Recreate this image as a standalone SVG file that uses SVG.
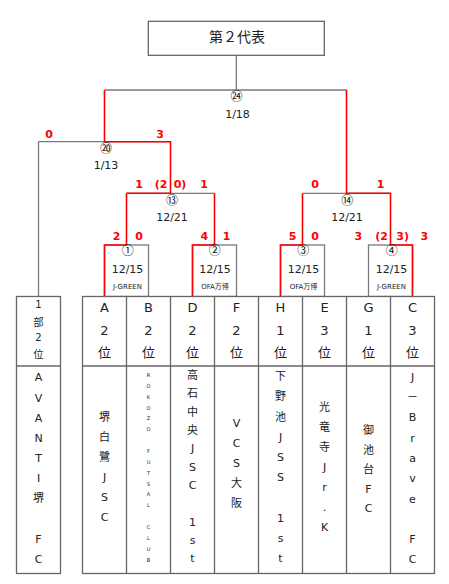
<svg xmlns="http://www.w3.org/2000/svg" width="449" height="584" viewBox="0 0 449 584">
<style>
text{font-family:"DejaVu Sans","Noto Sans CJK JP",sans-serif;fill:#222;text-anchor:middle}
.g{stroke:#7a7a7a;stroke-width:1.3;fill:none}
.r{stroke:#ff0000;stroke-width:1.6;fill:none}
.box{fill:#fff;stroke:#666;stroke-width:1.3}
.sc{font-size:11px;font-weight:bold;fill:#ff0000}
.dt{font-size:11px}
.ven{font-size:7px}
.cn{font-family:"Noto Sans CJK JP",sans-serif;font-size:12px;fill:#111}
.hd{font-size:13px}
.hs{font-size:10px}
.tm{font-size:11px}
.tiny{font-size:5px}
</style>
<rect width="449" height="584" fill="#fff"/>

<g id="winner-box">
<rect x="148.3" y="21.3" width="176" height="34" class="box"/>
<text x="237" y="42" style="font-family:'Noto Sans CJK JP',sans-serif;font-size:14px">第２代表</text>
</g>

<g id="connectors">
<path class="g" d="M236.3 55.3V90M104.5 90H346.5M38.5 141.7H170.5M38.5 141.7V296.5M126.5 193.3H214.5M302.5 193.3H390.5"/>
<rect class="g" x="104.5" y="245" width="44" height="51.5"/>
<rect class="g" x="192.5" y="245" width="44" height="51.5"/>
<rect class="g" x="280.5" y="245" width="44" height="51.5"/>
<rect class="g" x="368.5" y="245" width="44" height="51.5"/>
<path class="r" d="M104.5 90V141.7H170.5V193.3M346.5 90V193.3H390.5V245H412.5V296.5M126.5 193.3H170.5M126.5 193.3V245H104.5V296.5M214.5 193.3V245H192.5V296.5M302.5 193.3V245H280.5V296.5"/>
</g>

<g id="match-24">
<text class="cn" x="236.5" y="100.5">㉔</text>
<text class="dt" x="237.5" y="118">1/18</text>
</g>
<g id="match-20">
<text class="sc" x="49" y="138">0</text>
<text class="sc" x="160" y="138">3</text>
<text class="cn" x="106" y="152.5">⑳</text>
<text class="dt" x="106" y="169">1/13</text>
</g>
<g id="match-13">
<text class="sc" x="139" y="188">1</text>
<text class="sc" x="161" y="188">(2</text>
<text class="sc" x="180" y="188">0)</text>
<text class="sc" x="204" y="188">1</text>
<text class="cn" x="172" y="204.5">⑬</text>
<text class="dt" x="172" y="221">12/21</text>
</g>
<g id="match-14">
<text class="sc" x="315" y="188">0</text>
<text class="sc" x="380.7" y="188">1</text>
<text class="cn" x="347.3" y="204.5">⑭</text>
<text class="dt" x="347" y="221">12/21</text>
</g>
<g id="match-1">
<text class="sc" x="116.7" y="240">2</text>
<text class="sc" x="139" y="240">0</text>
<text class="cn" x="127.7" y="255">①</text>
<text class="dt" x="127.5" y="273">12/15</text>
<text class="ven" x="127.5" y="288.5">J-GREEN</text>
</g>
<g id="match-2">
<text class="sc" x="204.3" y="240">4</text>
<text class="sc" x="226.7" y="240">1</text>
<text class="cn" x="214.7" y="255">②</text>
<text class="dt" x="215" y="273">12/15</text>
<text class="ven" x="215" y="288.5">OFA万博</text>
</g>
<g id="match-3">
<text class="sc" x="292.7" y="240">5</text>
<text class="sc" x="315" y="240">0</text>
<text class="cn" x="303.3" y="255">③</text>
<text class="dt" x="303.5" y="273">12/15</text>
<text class="ven" x="303.5" y="288.5">OFA万博</text>
</g>
<g id="match-4">
<text class="sc" x="358.3" y="240">3</text>
<text class="sc" x="381.7" y="240">(2</text>
<text class="sc" x="402.7" y="240">3)</text>
<text class="sc" x="424.3" y="240">3</text>
<text class="cn" x="391.7" y="255">④</text>
<text class="dt" x="391.5" y="273">12/15</text>
<text class="ven" x="391.5" y="288.5">J-GREEN</text>
</g>

<g id="table-lines">
<rect class="box" x="16.5" y="296.5" width="44" height="277"/>
<path class="g" d="M16.5 366H60.5" style="stroke:#666"/>
<rect class="box" x="82.5" y="296.5" width="352" height="277"/>
<path class="g" style="stroke:#666" d="M82.5 366H434.5M126.5 296.5V573.5M170.5 296.5V573.5M214.5 296.5V573.5M258.5 296.5V573.5M302.5 296.5V573.5M346.5 296.5V573.5M390.5 296.5V573.5"/>
</g>

<g id="team-seed">
<text class="hs"><tspan x="38.5" y="307.6">1</tspan><tspan x="38.5" y="325.5">部</tspan><tspan x="38.5" y="341">2</tspan><tspan x="38.5" y="358">位</tspan></text>
<text class="tm"><tspan x="38.5" y="381.3">A</tspan><tspan x="38.5" y="401.5">V</tspan><tspan x="38.5" y="421.7">A</tspan><tspan x="38.5" y="441.9">N</tspan><tspan x="38.5" y="462.1">T</tspan><tspan x="38.5" y="482.3">I</tspan><tspan x="38.5" y="501.5">堺</tspan><tspan x="38.5" y="542.9">F</tspan><tspan x="38.5" y="563.1">C</tspan></text>
</g>
<g id="team-A2">
<text class="hd"><tspan x="104.5" y="311.5">A</tspan><tspan x="104.5" y="334.7">2</tspan><tspan x="104.5" y="356.5">位</tspan></text>
<text class="tm"><tspan x="104.5" y="421.3">堺</tspan><tspan x="104.5" y="441.3">白</tspan><tspan x="104.5" y="461.3">鷺</tspan><tspan x="104.5" y="481.3">J</tspan><tspan x="104.5" y="501.3">S</tspan><tspan x="104.5" y="521.3">C</tspan></text>
</g>
<g id="team-B2">
<text class="hd"><tspan x="148.5" y="311.5">B</tspan><tspan x="148.5" y="334.7">2</tspan><tspan x="148.5" y="356.5">位</tspan></text>
<text class="tiny"><tspan x="148.5" y="377">R</tspan><tspan x="148.5" y="387.9">O</tspan><tspan x="148.5" y="398.7">K</tspan><tspan x="148.5" y="409.6">O</tspan><tspan x="148.5" y="420.4">Z</tspan><tspan x="148.5" y="431.3">O</tspan><tspan x="148.5" y="453">F</tspan><tspan x="148.5" y="463.8">U</tspan><tspan x="148.5" y="474.7">T</tspan><tspan x="148.5" y="485.5">S</tspan><tspan x="148.5" y="496.4">A</tspan><tspan x="148.5" y="507.2">L</tspan><tspan x="148.5" y="529">C</tspan><tspan x="148.5" y="539.8">L</tspan><tspan x="148.5" y="550.7">U</tspan><tspan x="148.5" y="561.5">B</tspan></text>
</g>
<g id="team-D2">
<text class="hd"><tspan x="192.5" y="311.5">D</tspan><tspan x="192.5" y="334.7">2</tspan><tspan x="192.5" y="356.5">位</tspan></text>
<text class="tm"><tspan x="192.5" y="379">高</tspan><tspan x="192.5" y="397.3">石</tspan><tspan x="192.5" y="415.7">中</tspan><tspan x="192.5" y="434">央</tspan><tspan x="192.5" y="452.3">J</tspan><tspan x="192.5" y="470.7">S</tspan><tspan x="192.5" y="489">C</tspan><tspan x="192.5" y="525.7">1</tspan><tspan x="192.5" y="544">s</tspan><tspan x="192.5" y="562.3">t</tspan></text>
</g>
<g id="team-F2">
<text class="hd"><tspan x="236.5" y="311.5">F</tspan><tspan x="236.5" y="334.7">2</tspan><tspan x="236.5" y="356.5">位</tspan></text>
<text class="tm"><tspan x="236.5" y="427.3">V</tspan><tspan x="236.5" y="447.3">C</tspan><tspan x="236.5" y="467.3">S</tspan><tspan x="236.5" y="487.3">大</tspan><tspan x="236.5" y="507.3">阪</tspan></text>
</g>
<g id="team-H1">
<text class="hd"><tspan x="280.5" y="311.5">H</tspan><tspan x="280.5" y="334.7">1</tspan><tspan x="280.5" y="356.5">位</tspan></text>
<text class="tm"><tspan x="280.5" y="380">下</tspan><tspan x="280.5" y="400.3">野</tspan><tspan x="280.5" y="420.5">池</tspan><tspan x="280.5" y="440.8">J</tspan><tspan x="280.5" y="461">S</tspan><tspan x="280.5" y="481.3">S</tspan><tspan x="280.5" y="521.8">1</tspan><tspan x="280.5" y="542">s</tspan><tspan x="280.5" y="562.3">t</tspan></text>
</g>
<g id="team-E3">
<text class="hd"><tspan x="324.5" y="311.5">E</tspan><tspan x="324.5" y="334.7">3</tspan><tspan x="324.5" y="356.5">位</tspan></text>
<text class="tm"><tspan x="324.5" y="410.7">光</tspan><tspan x="324.5" y="430.7">竜</tspan><tspan x="324.5" y="450.7">寺</tspan><tspan x="324.5" y="470.7">J</tspan><tspan x="324.5" y="490.7">r</tspan><tspan x="324.5" y="510.7">.</tspan><tspan x="324.5" y="530.7">K</tspan></text>
</g>
<g id="team-G1">
<text class="hd"><tspan x="368.5" y="311.5">G</tspan><tspan x="368.5" y="334.7">1</tspan><tspan x="368.5" y="356.5">位</tspan></text>
<text class="tm"><tspan x="368.5" y="434">御</tspan><tspan x="368.5" y="453.5">池</tspan><tspan x="368.5" y="473">台</tspan><tspan x="368.5" y="492.5">F</tspan><tspan x="368.5" y="512">C</tspan></text>
</g>
<g id="team-C3">
<text class="hd"><tspan x="412.5" y="311.5">C</tspan><tspan x="412.5" y="334.7">3</tspan><tspan x="412.5" y="356.5">位</tspan></text>
<text class="tm"><tspan x="412.5" y="380.7">J</tspan><tspan x="412.5" y="401">－</tspan><tspan x="412.5" y="421.3">B</tspan><tspan x="412.5" y="441.6">r</tspan><tspan x="412.5" y="461.9">a</tspan><tspan x="412.5" y="482.2">v</tspan><tspan x="412.5" y="502.5">e</tspan><tspan x="412.5" y="543.1">F</tspan><tspan x="412.5" y="563.4">C</tspan></text>
</g>
</svg>
